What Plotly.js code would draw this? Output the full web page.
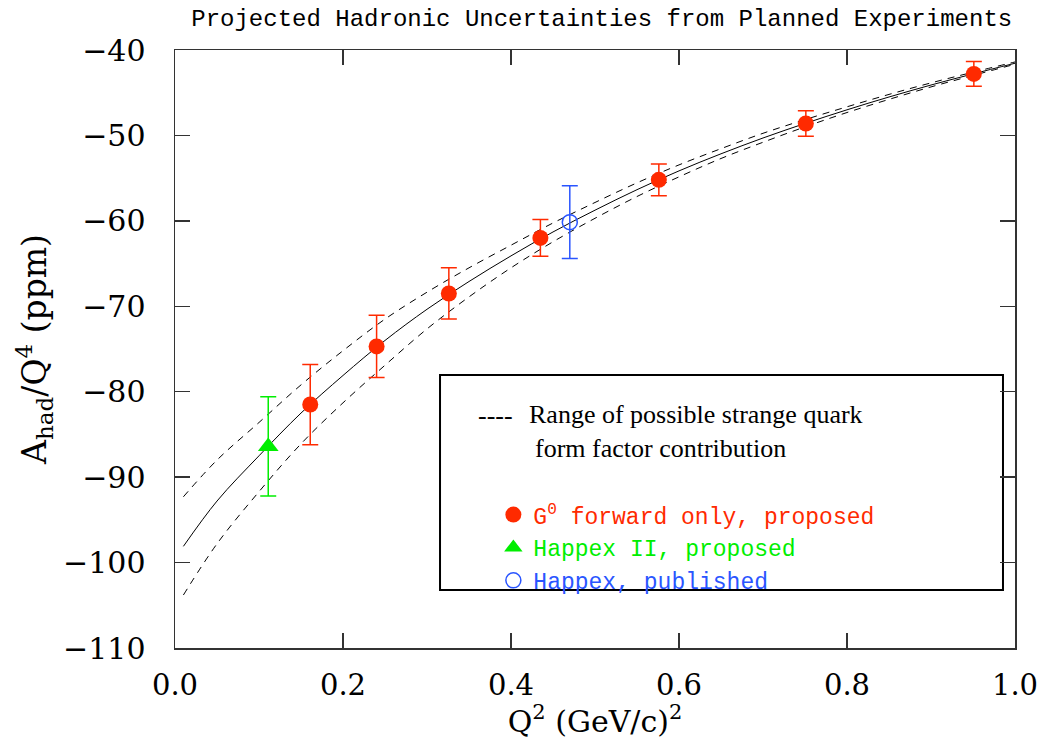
<!DOCTYPE html>
<html>
<head>
<meta charset="utf-8">
<script src="https://cdn.plot.ly/plotly-3.0.1.min.js"></script>
<style>
  html, body { margin: 0; padding: 0; background: #ffffff; }
  #chart { width: 1053px; height: 739px; }
</style>
</head>
<body>
<div id="chart"></div>
<script>
// ---- Data ----
// Curves: central prediction and range of possible strange-quark form factor contribution
var curveQ2    = [0.01, 0.05, 0.10, 0.15, 0.20, 0.25, 0.30, 0.35, 0.40, 0.45, 0.50, 0.55, 0.60, 0.65, 0.70, 0.75, 0.80, 0.85, 0.90, 0.95, 1.00];
var curveMid   = [-98.1, -92.8, -87.5, -82.5, -78.1, -74.0, -70.35, -67.1, -64.1, -61.3, -58.75, -56.35, -54.15, -52.15, -50.3, -48.6, -47.0, -45.5, -44.1, -42.8, -41.55];
var curveUpper = [-92.3, -88.0, -83.6, -79.2, -75.2, -71.5, -68.35, -65.5, -62.85, -60.25, -57.85, -55.55, -53.45, -51.55, -49.75, -48.15, -46.65, -45.2, -43.85, -42.6, -41.4];
var curveLower = [-103.8, -97.8, -91.7, -86.1, -81.3, -76.9, -72.65, -68.9, -65.5, -62.45, -59.7, -57.15, -54.85, -52.7, -50.8, -49.0, -47.32, -45.78, -44.32, -42.98, -41.67];

// G0 forward only, proposed
var g0Q2  = [0.161, 0.240, 0.326, 0.435, 0.576, 0.751, 0.951];
var g0A   = [-81.5, -74.7, -68.5, -62.0, -55.2, -48.6, -42.8];
var g0Err = [4.7, 3.65, 3.0, 2.15, 1.85, 1.5, 1.45];

// Happex II, proposed
var h2Q2  = [0.111];
var h2A   = [-86.4];
var h2Err = [5.8];

// Happex, published
var hQ2  = [0.470];
var hA   = [-60.15];
var hErr = [4.25];

var xTicks = [0.0, 0.2, 0.4, 0.6, 0.8, 1.0];
var yTicks = [-110, -100, -90, -80, -70, -60, -50, -40];

var RED = '#ff2a00', GREEN = '#00ee00', BLUE = '#2a55ff';
var MONO = '"Liberation Mono", "Courier New", monospace';
var SERIF = '"Liberation Serif", "Times New Roman", serif';
var TICKF = '"DejaVu Serif", serif';

var traces = [
  { x: curveQ2, y: curveUpper, mode: 'lines', line: {color: '#000', width: 1, dash: '7px,6px', shape: 'spline'}, showlegend: false, hoverinfo: 'skip' },
  { x: curveQ2, y: curveLower, mode: 'lines', line: {color: '#000', width: 1, dash: '7px,6px', shape: 'spline'}, showlegend: false, hoverinfo: 'skip' },
  { x: curveQ2, y: curveMid,   mode: 'lines', line: {color: '#000', width: 1, shape: 'spline'}, showlegend: false, hoverinfo: 'skip' },
  { x: g0Q2, y: g0A, mode: 'markers', name: '<span style="color:' + RED + '">G<sup>0</sup> forward only, proposed</span>',
    marker: {symbol: 'circle', size: 16, color: RED},
    error_y: {type: 'data', array: g0Err, visible: true, color: RED, thickness: 1.5, width: 8} },
  { x: h2Q2, y: h2A, mode: 'markers', name: '<span style="color:' + GREEN + '">Happex II, proposed</span>',
    marker: {symbol: 'triangle-up', size: 18, color: GREEN},
    error_y: {type: 'data', array: h2Err, visible: true, color: GREEN, thickness: 1.5, width: 8} },
  { x: hQ2, y: hA, mode: 'markers', name: '<span style="color:' + BLUE + '">Happex, published</span>',
    marker: {symbol: 'circle-open', size: 15, color: BLUE, line: {width: 1.5, color: BLUE}},
    error_y: {type: 'data', array: hErr, visible: true, color: BLUE, thickness: 1.5, width: 8} }
];

var layout = {
  width: 1053, height: 739,
  margin: {l: 175, r: 38, t: 50, b: 91},
  paper_bgcolor: '#ffffff', plot_bgcolor: '#ffffff',
  title: {text: 'Projected Hadronic Uncertainties from Planned Experiments',
          font: {family: MONO, size: 24, color: '#000'},
          xref: 'paper', x: 0.508, xanchor: 'center', yref: 'container', y: 0.976, yanchor: 'middle'},
  xaxis: {range: [0, 1], tickvals: xTicks, tickformat: '.1f', ticks: 'inside', ticklen: 15, tickwidth: 1.5, tickcolor: '#333',
          showline: true, linecolor: '#333', linewidth: 1.5, mirror: 'ticks', showgrid: false, zeroline: false,
          tickfont: {family: TICKF, size: 29, color: '#000'}, ticklabelstandoff: 11,
          title: {text: 'Q<sup>2</sup> (GeV/c)<sup>2</sup>', font: {family: TICKF, size: 30, color: '#000'}, standoff: 4}},
  yaxis: {range: [-110, -40], tickvals: yTicks, ticks: 'inside', ticklen: 15, tickwidth: 1.5, tickcolor: '#333',
          showline: true, linecolor: '#333', linewidth: 1.5, mirror: 'ticks', showgrid: false, zeroline: false,
          tickfont: {family: TICKF, size: 30, color: '#000'}, ticklabelstandoff: 22,
          title: {text: 'A<sub>had</sub>/Q<sup>4</sup> (ppm)', font: {family: TICKF, size: 33, color: '#000'}, standoff: 6}},
  showlegend: true,
  legend: {x: 0.379, y: 0.259, xanchor: 'left', yanchor: 'top', bgcolor: 'rgba(0,0,0,0)', borderwidth: 0,
           font: {family: MONO, size: 23, color: '#000'}, tracegroupgap: 0},
  shapes: [
    {type: 'rect', xref: 'paper', yref: 'paper', x0: 0.3155, x1: 0.9857, y0: 0.097, y1: 0.4565,
     line: {color: '#000', width: 2}, fillcolor: '#ffffff', layer: 'below'}
  ],
  annotations: [
    {xref: 'paper', yref: 'paper', x: 0.382, y: 0.388, text: '----', showarrow: false,
     font: {family: SERIF, size: 26, color: '#000'}, xanchor: 'center', yanchor: 'middle'},
    {xref: 'paper', yref: 'paper', x: 0.419, y: 0.391, text: 'Range of possible strange quark', showarrow: false,
     font: {family: SERIF, size: 26, color: '#000'}, xanchor: 'left', yanchor: 'middle'},
    {xref: 'paper', yref: 'paper', x: 0.426, y: 0.334, text: 'form factor contribution', showarrow: false,
     font: {family: SERIF, size: 26, color: '#000'}, xanchor: 'left', yanchor: 'middle'}
  ]
};

Plotly.newPlot('chart', traces, layout, {displayModeBar: false, staticPlot: true});
</script>
</body>
</html>
